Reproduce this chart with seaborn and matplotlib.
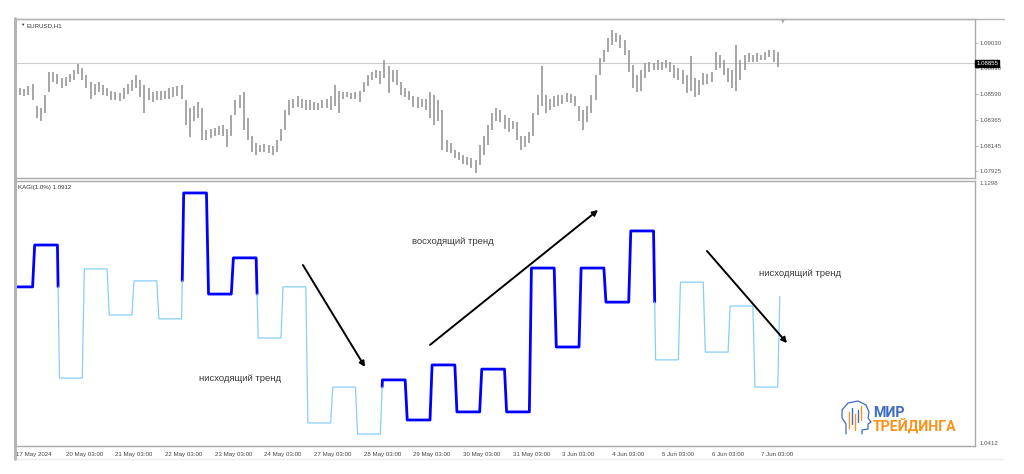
import numpy as np
import pandas as pd
import matplotlib
matplotlib.use('Agg')
import matplotlib.pyplot as plt
import matplotlib.transforms as mtransforms
from matplotlib.lines import Line2D
import seaborn as sns

# EURUSD H1 - highs / lows in 2-hour steps
bar_high = [
    1.0868, 1.0864, 1.0863, 1.0866, 1.0868, 1.0849, 1.0847, 1.0858, 1.0878, 1.0878, 1.0876, 1.0873,  # 17 May
    1.0874, 1.0876, 1.0880, 1.0885, 1.0881, 1.0875, 1.0869, 1.0868, 1.0869, 1.0867, 1.0864, 1.0862,  # 20 May
    1.0861, 1.0860, 1.0864, 1.0868, 1.0871, 1.0875, 1.0871, 1.0867, 1.0864, 1.0861, 1.0862, 1.0862,  # 21 May
    1.0862, 1.0864, 1.0865, 1.0866, 1.0867, 1.0854, 1.0847, 1.0849, 1.0852, 1.0847, 1.0828, 1.0829,  # 22 May
    1.0830, 1.0831, 1.0832, 1.0829, 1.0841, 1.0854, 1.0858, 1.0861, 1.0838, 1.0823, 1.0817, 1.0815,  # 23 May
    1.0816, 1.0815, 1.0814, 1.0819, 1.0829, 1.0845, 1.0854, 1.0855, 1.0857, 1.0855, 1.0854, 1.0854,  # 24 May
    1.0852, 1.0851, 1.0854, 1.0855, 1.0857, 1.0867, 1.0862, 1.0861, 1.0861, 1.0860, 1.0861, 1.0862,  # 27 May
    1.0869, 1.0875, 1.0878, 1.0880, 1.0879, 1.0888, 1.0883, 1.0880, 1.0880, 1.0869, 1.0864, 1.0862,  # 28 May
    1.0857, 1.0856, 1.0855, 1.0855, 1.0861, 1.0858, 1.0854, 1.0845, 1.0819, 1.0817, 1.0811, 1.0809,  # 29 May
    1.0806, 1.0805, 1.0804, 1.0802, 1.0815, 1.0823, 1.0832, 1.0843, 1.0847, 1.0845, 1.0841, 1.0838,  # 30 May
    1.0836, 1.0835, 1.0823, 1.0823, 1.0826, 1.0843, 1.0858, 1.0883, 1.0858, 1.0855, 1.0857, 1.0858,  # 31 May
    1.0858, 1.0860, 1.0859, 1.0857, 1.0849, 1.0845, 1.0849, 1.0858, 1.0875, 1.0890, 1.0897, 1.0907,  # 3 Jun
    1.0914, 1.0912, 1.0910, 1.0906, 1.0897, 1.0884, 1.0875, 1.0880, 1.0886, 1.0887, 1.0886, 1.0888,  # 4 Jun
    1.0887, 1.0888, 1.0887, 1.0884, 1.0881, 1.0880, 1.0875, 1.0892, 1.0873, 1.0871, 1.0877, 1.0876,  # 5 Jun
    1.0878, 1.0895, 1.0893, 1.0888, 1.0881, 1.0880, 1.0901, 1.0888, 1.0893, 1.0894, 1.0893, 1.0894,  # 6 Jun
    1.0893, 1.0895, 1.0897, 1.0897, 1.0895,                                                          # 7 Jun
]
bar_low = [
    1.0860, 1.0858, 1.0857, 1.0858, 1.0854, 1.0838, 1.0836, 1.0843, 1.0861, 1.0869, 1.0868, 1.0864,
    1.0866, 1.0869, 1.0871, 1.0876, 1.0871, 1.0864, 1.0855, 1.0858, 1.0861, 1.0858, 1.0857, 1.0854,
    1.0854, 1.0853, 1.0855, 1.0859, 1.0862, 1.0864, 1.0856, 1.0843, 1.0854, 1.0852, 1.0854, 1.0854,
    1.0855, 1.0855, 1.0856, 1.0857, 1.0855, 1.0832, 1.0822, 1.0836, 1.0838, 1.0819, 1.0819, 1.0821,
    1.0823, 1.0824, 1.0823, 1.0813, 1.0823, 1.0841, 1.0847, 1.0828, 1.0819, 1.0809, 1.0806, 1.0809,
    1.0809, 1.0808, 1.0806, 1.0809, 1.0818, 1.0828, 1.0841, 1.0847, 1.0848, 1.0847, 1.0845, 1.0845,
    1.0845, 1.0845, 1.0847, 1.0847, 1.0845, 1.0849, 1.0843, 1.0855, 1.0856, 1.0855, 1.0855, 1.0852,
    1.0861, 1.0866, 1.0871, 1.0873, 1.0868, 1.0873, 1.0860, 1.0869, 1.0867, 1.0858, 1.0856, 1.0854,
    1.0848, 1.0847, 1.0848, 1.0845, 1.0838, 1.0832, 1.0836, 1.0811, 1.0809, 1.0808, 1.0804, 1.0802,
    1.0799, 1.0798, 1.0795, 1.0791, 1.0798, 1.0806, 1.0815, 1.0828, 1.0836, 1.0835, 1.0829, 1.0826,
    1.0829, 1.0819, 1.0811, 1.0813, 1.0817, 1.0823, 1.0841, 1.0849, 1.0843, 1.0845, 1.0848, 1.0849,
    1.0850, 1.0852, 1.0851, 1.0849, 1.0836, 1.0828, 1.0835, 1.0843, 1.0854, 1.0875, 1.0887, 1.0895,
    1.0901, 1.0904, 1.0899, 1.0893, 1.0878, 1.0864, 1.0861, 1.0862, 1.0873, 1.0878, 1.0880, 1.0880,
    1.0880, 1.0881, 1.0878, 1.0873, 1.0871, 1.0868, 1.0860, 1.0862, 1.0856, 1.0858, 1.0867, 1.0868,
    1.0869, 1.0880, 1.0881, 1.0875, 1.0869, 1.0864, 1.0862, 1.0871, 1.0880, 1.0887, 1.0887, 1.0887,
    1.0888, 1.0888, 1.0891, 1.0887, 1.0882,
]
last_price = 1.08855
price_ticks = [1.09030, 1.08810, 1.08590, 1.08365, 1.08145, 1.07925]

# KAGI(1.0%) turning levels, one per column
kagi_levels = [1.0944, 1.1084, 1.0639, 1.1004, 1.0850, 1.0964, 1.0837, 1.1258,
               1.0920, 1.1041, 1.0773, 1.0944, 1.0489, 1.0609, 1.0452, 1.0633,
               1.0499, 1.0683, 1.0526, 1.0669, 1.0526, 1.1007, 1.0743, 1.1007,
               1.0893, 1.1131, 1.0700, 1.0960, 1.0726, 1.0880, 1.0609, 1.0912]
kagi_scale = [1.0412, 1.1298]

day_labels = ['17 May 2024', '20 May 03:00', '21 May 03:00', '22 May 03:00',
              '23 May 03:00', '24 May 03:00', '27 May 03:00', '28 May 03:00',
              '29 May 03:00', '30 May 03:00', '31 May 03:00', '3 Jun 03:00',
              '4 Jun 03:00', '5 Jun 03:00', '6 Jun 03:00', '7 Jun 03:00']

sns.set_style('white')
plt.rcParams['font.family'] = ['Liberation Sans', 'DejaVu Sans']

W, H = 1024, 474
fig = plt.figure(figsize=(W / 100, H / 100), dpi=100)
fig.patch.set_facecolor('white')


def px(x, y):
    return x / W, 1 - y / H


ax1 = fig.add_axes([15 / W, 1 - 178 / H, 960 / W, 159 / H])
ax2 = fig.add_axes([15 / W, 1 - 446 / H, 960 / W, 265 / H], sharex=ax1)

frame = '#a9a9a9'
for ax in (ax1, ax2):
    ax.set_facecolor('white')
    for s in ax.spines.values():
        s.set_color(frame)
        s.set_linewidth(1.0)
    ax.spines['left'].set_linewidth(2.0)

# --- price panel (OHLC bars) ---
hours = np.arange(len(bar_high)) * 2
ax1.axhline(last_price, color='#cccccc', lw=0.8, zorder=0)
ax1.vlines(hours, bar_low, bar_high, color='#939393', lw=1.15)
ax1.set_ylim(1.07865, 1.09237)
ax1.yaxis.tick_right()
ax1.set_yticks(price_ticks)
ax1.set_yticklabels([f'{v:.5f}' for v in price_ticks])
ax1.tick_params(axis='y', direction='out', length=2, width=0.6, colors=frame,
                labelcolor='#555555', labelsize=4.4, pad=1.5)
ax1.tick_params(axis='x', bottom=False, labelbottom=False)
blend = mtransforms.blended_transform_factory(ax1.transAxes, ax1.transData)
ax1.text(1.0012, last_price, f'{last_price:.5f}', transform=blend, color='white',
         fontsize=4.4, va='center', ha='left', clip_on=False, zorder=5,
         bbox=dict(boxstyle='square,pad=0.18', fc='black', ec='black'))
ax1.text(0.005, 0.96, '▼', transform=ax1.transAxes, fontsize=3.2, color='#333333',
         va='center', ha='left')
ax1.text(0.012, 0.96, 'EURUSD,H1', transform=ax1.transAxes, fontsize=4.4,
         color='#333333', va='center', ha='left')

# --- kagi panel ---
pieces = []
cur_kind = 'yang'
cur_pts = [(0, kagi_levels[0])]
n = len(kagi_levels)
for i in range(1, n):
    h0 = 8 + 12 * (i - 1)
    prev, new = kagi_levels[i - 1], kagi_levels[i]
    cur_pts.append((h0, prev))
    # last column is still forming, MT4 keeps its colour
    if 2 <= i < n - 1:
        ref = kagi_levels[i - 2]
        flip = None
        if cur_kind == 'yin' and new > prev and new > ref:
            flip = 'yang'
        elif cur_kind == 'yang' and new < prev and new < ref:
            flip = 'yin'
        if flip:
            hb = h0 + (ref - prev) / (new - prev)
            cur_pts.append((hb, ref))
            pieces.append((cur_kind, cur_pts))
            cur_pts = [(hb, ref)]
            cur_kind = flip
    cur_pts.append((h0 + 1, new))
pieces.append((cur_kind, cur_pts))

rows = []
for sid, (kind, pts) in enumerate(pieces):
    for h, v in pts:
        rows.append({'seg': sid, 'kind': kind, 'h': h, 'v': v})
kagi = pd.DataFrame(rows)

sns.lineplot(data=kagi, x='h', y='v', units='seg', estimator=None, sort=False,
             hue='kind', size='kind', palette={'yang': '#0000ff', 'yin': '#87cefa'},
             sizes={'yang': 2.0, 'yin': 0.9}, legend=False, ax=ax2)
ax2.set_xlabel('')
ax2.set_ylabel('')
ax2.set_ylim(*kagi_scale)
ax2.yaxis.tick_right()
ax2.set_yticks(kagi_scale)
ax2.set_yticklabels([f'{v:.4f}' for v in kagi_scale])
ax2.tick_params(axis='y', length=0, labelcolor='#555555', labelsize=4.4, pad=3)
ylabs = ax2.get_yticklabels()
ylabs[0].set_va('bottom')
ylabs[1].set_va('top')

ax2.set_xticks([24 * d for d in range(len(day_labels))])
ax2.set_xticklabels(day_labels, ha='left')
ax2.tick_params(axis='x', direction='out', length=2.5, width=0.6, colors=frame,
                labelcolor='#444444', labelsize=4.4, pad=1.5)
ax2.set_xlim(-0.5, 463.3)
ax2.text(0.003, 0.985, f'KAGI(1.0%) {kagi_levels[-1]:.4f}', transform=ax2.transAxes,
         fontsize=4.4, color='#333333', va='top', ha='left')

# trend arrows and captions
arrow = dict(arrowstyle='-|>', color='black', lw=1.4, mutation_scale=8,
             shrinkA=0, shrinkB=0)
ax2.annotate('', xy=(168.6, 1.0676), xytext=(138.6, 1.1017), arrowprops=arrow)
ax2.annotate('', xy=(281.2, 1.1201), xytext=(200.0, 1.0750), arrowprops=arrow)
ax2.annotate('', xy=(372.5, 1.0756), xytext=(333.8, 1.1064), arrowprops=arrow)
txt = dict(fontsize=6.8, color='#3a3a3a', ha='center', va='center')
ax2.text(211.1, 1.1097, 'восходящий тренд', **txt)
ax2.text(108.2, 1.0639, 'нисходящий тренд', **txt)
ax2.text(378.7, 1.0990, 'нисходящий тренд', **txt)

# window frame lines
fig.add_artist(Line2D([15 / W, 1004 / W], [1 - 18.5 / H] * 2, color='#b5b5b5', lw=1.0,
                      transform=fig.transFigure))
fig.add_artist(Line2D([15 / W, 1003 / W], [1 - 459 / H] * 2, color='#ececec', lw=1.0,
                      transform=fig.transFigure))
fig.add_artist(Line2D([15 / W] * 2, [1 - 18 / H, 1 - 459 / H], color='#b5b5b5', lw=2.0,
                      transform=fig.transFigure))
fig.text(783 / W, 1 - 21 / H, '▼', fontsize=3.5, color='#aaaaaa', ha='center', va='center',
         family='DejaVu Sans')

# logo
fig.text(*px(873, 413), 'МИР', color='#3f6cc1', fontsize=10.2, fontweight='bold',
         family='Roboto', va='center', ha='left')
fig.text(*px(873, 427), 'ТРЕЙДИНГА', color='#f7941d', fontsize=10.2, fontweight='bold',
         family='Roboto', va='center', ha='left')
head = [(846, 434), (846, 424), (842, 418), (842, 410), (848, 403), (858, 401), (866, 405),
        (869, 412), (868, 418), (871, 422), (868, 424), (868, 429), (862, 430), (862, 434)]
fig.add_artist(Line2D([p[0] / W for p in head], [1 - p[1] / H for p in head],
                      color='#3f6cc1', lw=0.9, transform=fig.transFigure))
for cx, top, bot, col in [(849, 412, 428, '#f7941d'), (852, 408, 424, '#3f6cc1'),
                          (855, 414, 430, '#f7941d'), (858, 410, 422, '#3f6cc1'),
                          (861, 406, 420, '#f7941d')]:
    fig.add_artist(Line2D([cx / W] * 2, [1 - top / H, 1 - bot / H], color=col, lw=1.0,
                          transform=fig.transFigure))

fig.savefig('out.png', dpi=100, facecolor='white')
